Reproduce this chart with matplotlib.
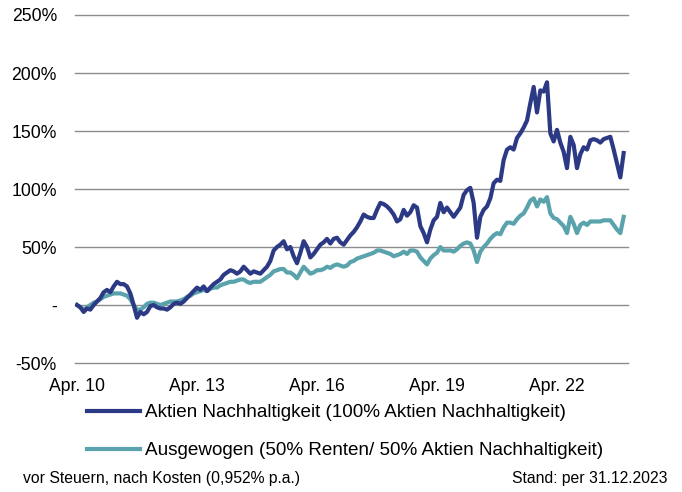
import matplotlib
matplotlib.use("Agg")
import matplotlib.pyplot as plt

plt.rcParams['font.family'] = ['Liberation Sans', 'DejaVu Sans']

# Monthly values, Apr 2010 .. Dec 2023 (cumulative performance in %)
aktien = [0, -2, -6, -3, -4, 0, 3, 6, 11, 13, 11, 16, 20, 18, 18, 16, 10, 0, -11, -6,
          -8, -6, -1, 0, -2, -3, -3, -4, -2, 1, 2, 1, 3, 6, 9, 12, 15, 13, 16, 12,
          15, 18, 20, 22, 26, 28, 30, 29, 27, 29, 33, 30, 27, 29, 28, 27, 30, 33, 38, 47,
          50, 52, 55, 48, 50, 42, 36, 45, 55, 50, 41, 44, 48, 52, 54, 57, 53, 57, 58, 54,
          52, 56, 60, 63, 67, 72, 78, 76, 75, 75, 82, 88, 87, 85, 82, 78, 72, 74, 82, 77,
          80, 86, 84, 68, 62, 54, 65, 73, 76, 88, 80, 84, 80, 76, 80, 84, 95, 99, 101, 88,
          58, 76, 82, 85, 92, 105, 108, 107, 125, 134, 136, 134, 144, 148, 153, 159, 174, 188, 166, 185,
          184, 192, 148, 141, 151, 140, 132, 118, 145, 138, 118, 130, 136, 134, 142, 143, 142, 140, 143, 144,
          145, 134, 122, 110, 131]
ausgewogen = [0, -2, -4, -2, 0, 2, 3, 5, 7, 8, 9, 10, 10, 10, 9, 8, 5, 0, -4, -4,
              -2, 1, 2, 2, 1, 0, 1, 2, 3, 3, 3, 4, 5, 7, 8, 10, 11, 12, 13, 12,
              14, 15, 15, 17, 18, 19, 20, 20, 21, 22, 22, 20, 19, 20, 20, 20, 22, 24, 26, 29,
              30, 31, 31, 28, 28, 26, 23, 28, 33, 30, 27, 28, 30, 30, 31, 33, 32, 34, 35, 34,
              33, 34, 37, 38, 40, 41, 42, 43, 44, 45, 47, 47, 46, 45, 44, 42, 43, 44, 46, 44,
              47, 47, 46, 41, 38, 35, 40, 43, 45, 50, 47, 47, 47, 46, 48, 51, 53, 54, 53, 47,
              37, 46, 50, 53, 57, 60, 62, 61, 67, 71, 71, 70, 74, 77, 79, 84, 90, 92, 85, 91,
              89, 93, 79, 75, 74, 71, 68, 62, 76, 70, 62, 69, 71, 69, 72, 72, 72, 72, 73, 73,
              73, 69, 65, 62, 76]
months = list(range(len(aktien)))
tick_pos = [0, 36, 72, 108, 144]
tick_labels = ["Apr. 10", "Apr. 13", "Apr. 16", "Apr. 19", "Apr. 22"]
y_ticks = [-50, 0, 50, 100, 150, 200, 250]
y_labels = ["-50%", "-", "50%", "100%", "150%", "200%", "250%"]
series_names = ["Aktien Nachhaltigkeit (100% Aktien Nachhaltigkeit)",
                "Ausgewogen (50% Renten/ 50% Aktien Nachhaltigkeit)"]

C_DARK = "#2C3A85"
C_TEAL = "#5AA3AD"

fig = plt.figure(figsize=(6.82, 4.92), dpi=100)
ax = fig.add_axes([75/682, 1-363/492, (628-75)/682, (363-15)/492])

for y in y_ticks:
    ax.axhline(y, color="#8C8C8C", lw=1.0, zorder=1, clip_on=False)

l1, = ax.plot(months, aktien, color=C_DARK, lw=3.0, zorder=3, solid_joinstyle="round")
l2, = ax.plot(months, ausgewogen, color=C_TEAL, lw=3.0, zorder=2, solid_joinstyle="round")

ax.set_xlim(-0.6, 165.3)
ax.set_ylim(-50, 250)
ax.set_yticks(y_ticks)
ax.set_yticklabels(y_labels)
ax.set_xticks(tick_pos)
ax.set_xticklabels(tick_labels)
ax.tick_params(axis="both", length=0, labelsize=12.7, colors="black")
ax.tick_params(axis="y", pad=13)
ax.tick_params(axis="x", pad=11)
for s in ax.spines.values():
    s.set_visible(False)

fig.legend([l1, l2], series_names, loc="upper left",
           bbox_to_anchor=(87/682, 1-404/492), frameon=False, fontsize=13.6,
           handlelength=2.8, handletextpad=0.26, labelspacing=1.1, borderpad=0,
           borderaxespad=0)

fig.text(23/682, 1-479/492, "vor Steuern, nach Kosten (0,952% p.a.)", fontsize=11.3,
         ha="left", va="center")
fig.text(668/682, 1-479/492, "Stand: per 31.12.2023", fontsize=11.3,
         ha="right", va="center")

fig.savefig("out.png", dpi=100)
